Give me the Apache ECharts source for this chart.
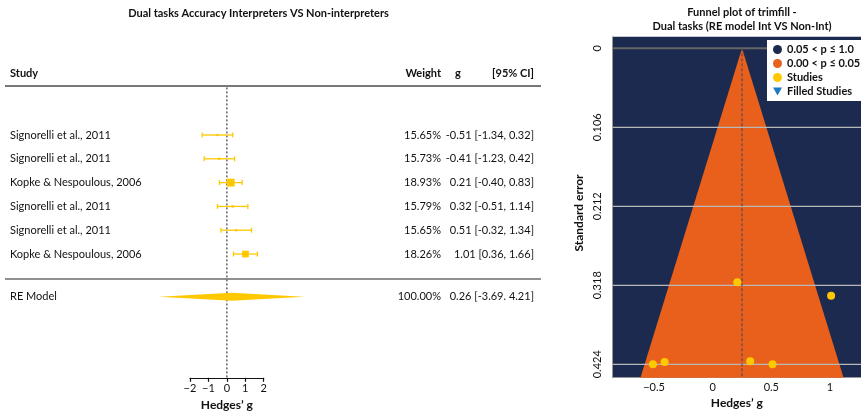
<!DOCTYPE html>
<html><head><meta charset="utf-8">
<script src="https://cdn.jsdelivr.net/npm/echarts@6/dist/echarts.min.js"></script>
<style>html,body{margin:0;padding:0;background:#fff}#c{width:861px;height:411px}</style>
</head><body><div id="c"></div>
<script>
// ---- data ----
const studies = ['Signorelli et al., 2011','Signorelli et al., 2011','Kopke & Nespoulous, 2006','Signorelli et al., 2011','Signorelli et al., 2011','Kopke & Nespoulous, 2006'];
const weights = [15.65, 15.73, 18.93, 15.79, 15.65, 18.26];
const gVals   = [-0.51, -0.41, 0.21, 0.32, 0.51, 1.01];
const ciLow   = [-1.34, -1.23, -0.40, -0.51, -0.32, 0.36];
const ciHigh  = [0.32, 0.42, 0.83, 1.14, 1.34, 1.66];
const seVals  = [0.424, 0.421, 0.314, 0.420, 0.424, 0.332];
const reLabel = 'RE Model';
const reWeight = 100.00, reEst = 0.26, reLow = -3.69, reHigh = 4.21;
const forestTicks = [-2, -1, 0, 1, 2];
const funnelCenter = 0.25;
const funnelXTicks = [-0.5, 0, 0.5, 1];
const funnelYTicks = [0, 0.106, 0.212, 0.318, 0.424];

// ---- layout / style ----
const FONT = 'Lato';
const GOLD = '#FFC800';
const NAVY = '#1B2A4E';
const ORANGE = '#E8601C';
const RE_ROW = 7.8;
const Y_MIN = -1, Y_MAX = 11.2;
const FY_MIN = -0.0156, FY_MAX = 0.442;
const minus = v => String(v).replace('-', '\u2212');
const fmt = (v) => v.toFixed(2);

const forestData = gVals.map((g, i) => [g, i + 1, ciLow[i], ciHigh[i], weights[i]]);
const textData = studies.map((s, i) => [0, i + 1, s, weights[i].toFixed(2) + '%', fmt(gVals[i]) + ' [' + fmt(ciLow[i]) + ', ' + fmt(ciHigh[i]) + ']']);
textData.push([0, RE_ROW, reLabel, reWeight.toFixed(2) + '%', fmt(reEst) + ' [' + fmt(reLow) + '. ' + fmt(reHigh) + ']']);

const chart = echarts.init(document.getElementById('c'), null, {renderer: 'canvas'});
const txt = (o) => Object.assign({fontFamily: FONT, fontSize: 11, fill: '#111'}, o);

chart.setOption({
  animation: false,
  textStyle: {fontFamily: FONT},
  grid: [
    {left: 190, width: 73.7, top: 87.4, height: 290.4, show: false, outerBoundsMode: 'none', containLabel: false},
    {left: 612.7, width: 248.3, top: 36.7, height: 341, show: true, backgroundColor: NAVY, borderWidth: 0, outerBoundsMode: 'none', containLabel: false}
  ],
  xAxis: [
    {gridIndex: 0, type: 'value', min: -2, max: 2, interval: 1,
     axisLine: {show: true, onZero: false, lineStyle: {color: '#111', width: 1.2}},
     axisTick: {show: true, inside: false, length: 4, lineStyle: {color: '#111', width: 1.2}},
     axisLabel: {margin: 5, fontSize: 11, color: '#111', fontFamily: FONT, formatter: v => minus(v)},
     splitLine: {show: false},
     name: 'Hedges\u2019 g', nameLocation: 'middle', nameGap: 19,
     nameTextStyle: {fontSize: 12, fontWeight: 'bold', color: '#111', fontFamily: FONT}},
    {gridIndex: 1, type: 'value', min: -0.853, max: 1.265,
     axisLine: {show: true, onZero: false, lineStyle: {color: '#999', width: 1}},
     axisTick: {show: false},
     axisLabel: {customValues: funnelXTicks, margin: 4, fontSize: 11, color: '#111', fontFamily: FONT, formatter: v => minus(v)},
     splitLine: {show: false},
     name: 'Hedges\u2019 g', nameLocation: 'middle', nameGap: 19,
     nameTextStyle: {fontSize: 12, fontWeight: 'bold', color: '#111', fontFamily: FONT}}
  ],
  yAxis: [
    {gridIndex: 0, type: 'value', inverse: true, min: Y_MIN, max: Y_MAX, show: false},
    {gridIndex: 1, type: 'value', inverse: true, min: FY_MIN, max: FY_MAX,
     axisLine: {show: true, onZero: false, lineStyle: {color: '#999', width: 1}},
     axisTick: {show: false},
     axisLabel: {customValues: funnelYTicks, rotate: 90, margin: 10, fontSize: 11, color: '#111', fontFamily: FONT, formatter: v => String(v)},
     splitLine: {show: false}}
  ],
  legend: {
    orient: 'vertical', left: 767, top: 40, backgroundColor: '#fff', padding: [4, 8, 4, 6],
    itemWidth: 9, itemHeight: 9, itemGap: 3, selectedMode: false,
    textStyle: {fontFamily: FONT, fontSize: 11, fontWeight: 'bold', color: '#111'},
    data: [
      {name: '0.05 < p \u2264 1.0', icon: 'circle'},
      {name: '0.00 < p \u2264 0.05', icon: 'circle'},
      {name: 'Studies', icon: 'circle'},
      {name: 'Filled Studies', icon: 'path://M0,0L10,0L5,9Z'}
    ]
  },
  graphic: [
    {type: 'text', style: txt({x: 258.5, y: 13, text: 'Dual tasks Accuracy Interpreters VS Non-interpreters', fontWeight: 'bold', align: 'center', verticalAlign: 'middle'})},
    {type: 'text', style: txt({x: 10, y: 73, text: 'Study', fontWeight: 'bold', verticalAlign: 'middle'})},
    {type: 'text', style: txt({x: 441, y: 73, text: 'Weight', fontWeight: 'bold', align: 'right', verticalAlign: 'middle'})},
    {type: 'text', style: txt({x: 458, y: 73, text: 'g', fontWeight: 'bold', align: 'center', verticalAlign: 'middle'})},
    {type: 'text', style: txt({x: 534, y: 73, text: '[95% CI]', fontWeight: 'bold', align: 'right', verticalAlign: 'middle'})},
    {type: 'line', shape: {x1: 5, y1: 86, x2: 541, y2: 86}, style: {stroke: '#777', lineWidth: 2}},
    {type: 'line', shape: {x1: 5, y1: 279, x2: 541, y2: 279}, style: {stroke: '#222', lineWidth: 1.2}},
    {type: 'text', style: txt({x: 742, y: 12, text: 'Funnel plot of trimfill -', fontWeight: 'bold', align: 'center', verticalAlign: 'middle'})},
    {type: 'text', style: txt({x: 742, y: 26, text: 'Dual tasks (RE model Int VS Non-Int)', fontWeight: 'bold', align: 'center', verticalAlign: 'middle'})},
    {type: 'text', x: 579, y: 213, rotation: Math.PI / 2, style: txt({x: 0, y: 0, text: 'Standard error', fontWeight: 'bold', fontSize: 12, align: 'center', verticalAlign: 'middle'})}
  ],
  series: [
    {type: 'line', xAxisIndex: 0, yAxisIndex: 0, data: [[0, Y_MIN], [0, Y_MAX]], symbol: 'none', z: 1,
     lineStyle: {color: '#666', width: 1.5, type: [2, 2]}},
    {type: 'custom', xAxisIndex: 0, yAxisIndex: 0, data: forestData, clip: false, z: 3,
     encode: {x: [0, 2, 3], y: 1},
     renderItem(params, api) {
       const g = api.value(0), row = api.value(1), lo = api.value(2), hi = api.value(3), w = api.value(4);
       const pL = api.coord([lo, row]), pR = api.coord([hi, row]), pC = api.coord([g, row]);
       const s = 2 + (w - 15.5) * 1.7;
       const st = {stroke: GOLD, lineWidth: 1.3};
       return {type: 'group', children: [
         {type: 'line', shape: {x1: pL[0], y1: pL[1], x2: pR[0], y2: pR[1]}, style: st},
         {type: 'line', shape: {x1: pL[0], y1: pL[1] - 2.5, x2: pL[0], y2: pL[1] + 2.5}, style: st},
         {type: 'line', shape: {x1: pR[0], y1: pR[1] - 2.5, x2: pR[0], y2: pR[1] + 2.5}, style: st},
         {type: 'rect', shape: {x: pC[0] - s / 2, y: pC[1] - s / 2, width: s, height: s}, style: {fill: GOLD}}
       ]};
     }},
    {type: 'custom', xAxisIndex: 0, yAxisIndex: 0, data: [[reEst, RE_ROW, reLow, reHigh]], clip: false, z: 3,
     encode: {x: [0, 2, 3], y: 1},
     renderItem(params, api) {
       const row = api.value(1);
       const pL = api.coord([api.value(2), row]), pR = api.coord([api.value(3), row]), pC = api.coord([api.value(0), row]);
       return {type: 'polygon', shape: {points: [[pL[0], pL[1]], [pC[0], pC[1] - 4], [pR[0], pR[1]], [pC[0], pC[1] + 4]]}, style: {fill: GOLD}};
     }},
    {type: 'custom', xAxisIndex: 0, yAxisIndex: 0, data: textData, clip: false, z: 3,
     encode: {y: 1},
     renderItem(params, api) {
       const d = textData[params.dataIndex];
       const y = api.coord([0, d[1]])[1];
       return {type: 'group', children: [
         {type: 'text', style: txt({x: 10, y: y, text: d[2], verticalAlign: 'middle'})},
         {type: 'text', style: txt({x: 441, y: y, text: d[3], align: 'right', verticalAlign: 'middle'})},
         {type: 'text', style: txt({x: 534, y: y, text: d[4], align: 'right', verticalAlign: 'middle'})}
       ]};
     }},
    {type: 'scatter', name: '0.05 < p \u2264 1.0', xAxisIndex: 1, yAxisIndex: 1, data: [], itemStyle: {color: NAVY, opacity: 1}},
    {type: 'custom', name: '0.00 < p \u2264 0.05', xAxisIndex: 1, yAxisIndex: 1, data: [[funnelCenter, 0]], z: 2,
     itemStyle: {color: ORANGE},
     renderItem(params, api) {
       const c = api.value(0);
       const a = api.coord([c, 0]), l = api.coord([c - 1.96 * FY_MAX, FY_MAX]), r = api.coord([c + 1.96 * FY_MAX, FY_MAX]);
       return {type: 'polygon', shape: {points: [a, l, r]}, style: {fill: ORANGE}};
     }},
    {type: 'custom', xAxisIndex: 1, yAxisIndex: 1, data: funnelYTicks.map(v => [0, v]), z: 3, silent: true,
     renderItem(params, api) {
       const cs = params.coordSys;
       const y = api.coord([0, api.value(1)])[1];
       return {type: 'line', shape: {x1: cs.x, y1: y, x2: cs.x + cs.width, y2: y},
         style: {stroke: params.dataIndex === 0 ? '#666' : '#b8b8b8', lineWidth: params.dataIndex === 0 ? 2 : 1.2}};
     }},
    {type: 'line', xAxisIndex: 1, yAxisIndex: 1, data: [[funnelCenter, 0], [funnelCenter, FY_MAX]], symbol: 'none', z: 4,
     lineStyle: {color: '#34446a', width: 1, type: [3, 2]}},
    {type: 'scatter', name: 'Studies', xAxisIndex: 1, yAxisIndex: 1, data: gVals.map((g, i) => [g, seVals[i]]), z: 5,
     symbolSize: 8, itemStyle: {color: GOLD, opacity: 1}},
    {type: 'scatter', name: 'Filled Studies', xAxisIndex: 1, yAxisIndex: 1, data: [], symbol: 'triangle', symbolRotate: 180,
     itemStyle: {color: '#1F7BC1', opacity: 1}}
  ]
});
</script></body></html>
